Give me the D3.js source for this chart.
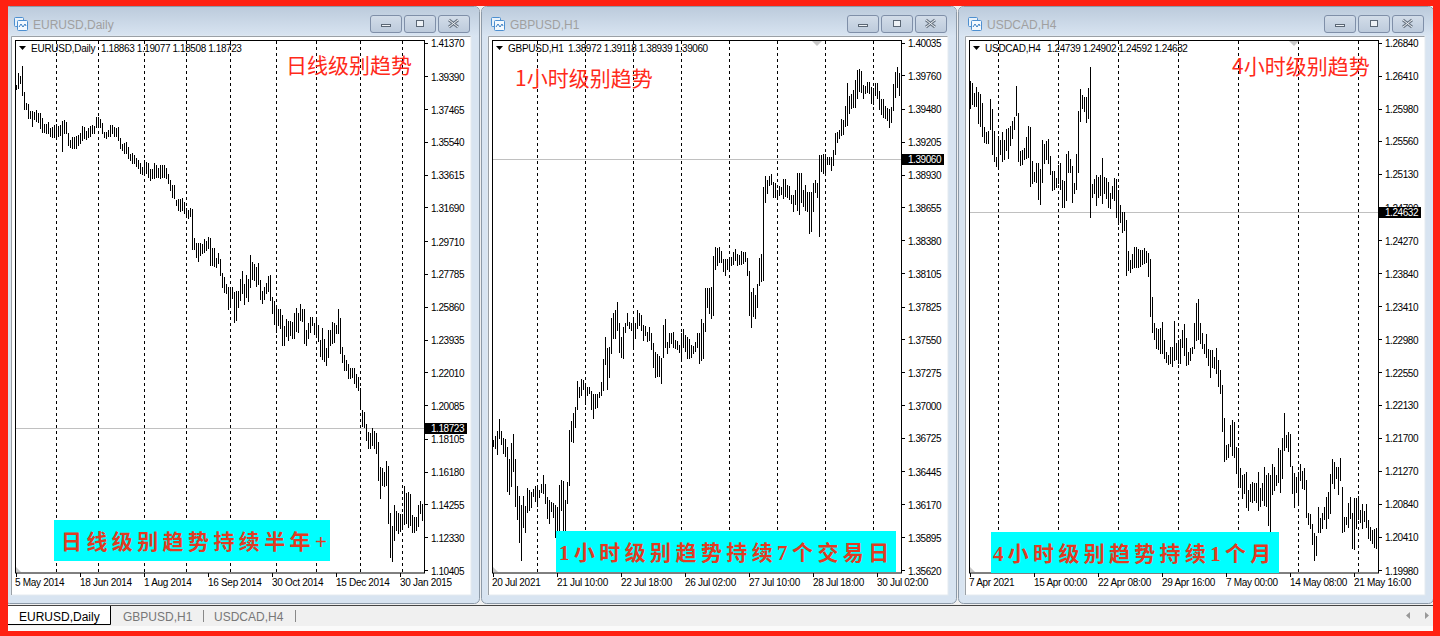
<!DOCTYPE html>
<html><head><meta charset="utf-8">
<script src="https://cdn.jsdelivr.net/npm/d3@7/dist/d3.min.js"></script>
<style>html,body{margin:0;padding:0;background:#fff;overflow:hidden}svg{display:block}</style>
</head><body><div id="c"></div>
<script>
// ---------- data (prices) ----------
const eurHigh=[
1.3888,1.3958,1.3940,1.3999,1.3847,1.3782,1.3776,1.3735,1.3735,1.3729,
1.3741,1.3723,1.3723,1.3694,1.3659,1.3659,1.3670,1.3635,1.3641,1.3653,
1.3659,1.3647,1.3653,1.3676,1.3682,1.3670,1.3606,1.3565,1.3582,1.3582,
1.3588,1.3594,1.3606,1.3647,1.3641,1.3618,1.3635,1.3647,1.3653,1.3647,
1.3700,1.3700,1.3688,1.3665,1.3612,1.3612,1.3623,1.3653,1.3653,1.3641,
1.3635,1.3641,1.3576,1.3541,1.3547,1.3553,1.3524,1.3483,1.3488,1.3477,
1.3459,1.3447,1.3430,1.3406,1.3447,1.3436,1.3430,1.3394,1.3394,1.3430,
1.3418,1.3400,1.3418,1.3418,1.3418,1.3400,1.3365,1.3330,1.3300,1.3300,
1.3213,1.3219,1.3219,1.3224,1.3201,1.3166,1.3154,1.3166,1.3160,1.2989,
1.2960,1.2960,1.2960,1.2954,1.2984,1.2972,1.2995,1.2989,1.2930,1.2930,
1.2872,1.2901,1.2866,1.2784,1.2761,1.2719,1.2702,1.2702,1.2702,1.2673,
1.2678,1.2678,1.2749,1.2796,1.2719,1.2772,1.2749,1.2890,1.2848,1.2837,
1.2819,1.2843,1.2743,1.2678,1.2702,1.2725,1.2766,1.2772,1.2643,1.2620,
1.2579,1.2573,1.2573,1.2538,1.2473,1.2514,1.2502,1.2502,1.2497,1.2549,
1.2579,1.2549,1.2602,1.2573,1.2573,1.2450,1.2491,1.2526,1.2526,1.2491,
1.2526,1.2479,1.2391,1.2462,1.2397,1.2344,1.2450,1.2450,1.2497,1.2491,
1.2479,1.2573,1.2520,1.2350,1.2303,1.2273,1.2250,1.2227,1.2227,1.2227,
1.2191,1.2174,1.2109,1.1980,1.1968,1.1898,1.1851,1.1845,1.1874,1.1857,
1.1845,1.1792,1.1645,1.1640,1.1616,1.1680,1.1651,1.1375,1.1299,1.1423,
1.1387,1.1375,1.1370,1.1370,1.1534,1.1492,1.1498,1.1487,1.1364,1.1352,
1.1352,1.1423,1.1446,1.1428];
const eurLow=[
1.3864,1.3870,1.3899,1.3829,1.3747,1.3747,1.3694,1.3694,1.3647,1.3688,
1.3676,1.3670,1.3635,1.3612,1.3612,1.3606,1.3606,1.3588,1.3582,1.3582,
1.3582,1.3588,1.3594,1.3500,1.3606,1.3606,1.3535,1.3524,1.3518,1.3518,
1.3518,1.3535,1.3547,1.3565,1.3576,1.3571,1.3582,1.3588,1.3606,1.3606,
1.3641,1.3641,1.3641,1.3606,1.3582,1.3576,1.3588,1.3588,1.3606,1.3588,
1.3588,1.3565,1.3518,1.3506,1.3488,1.3488,1.3459,1.3447,1.3430,1.3430,
1.3412,1.3400,1.3371,1.3365,1.3359,1.3371,1.3348,1.3330,1.3342,1.3342,
1.3348,1.3348,1.3342,1.3348,1.3348,1.3342,1.3312,1.3271,1.3230,1.3224,
1.3183,1.3154,1.3148,1.3154,1.3136,1.3119,1.3107,1.3119,1.2925,1.2925,
1.2878,1.2855,1.2890,1.2901,1.2907,1.2919,1.2930,1.2831,1.2831,1.2825,
1.2819,1.2843,1.2772,1.2702,1.2673,1.2667,1.2573,1.2602,1.2637,1.2497,
1.2508,1.2584,1.2626,1.2667,1.2602,1.2643,1.2620,1.2702,1.2749,1.2743,
1.2708,1.2719,1.2632,1.2608,1.2632,1.2667,1.2678,1.2626,1.2549,1.2485,
1.2438,1.2479,1.2462,1.2362,1.2362,1.2414,1.2391,1.2420,1.2403,1.2403,
1.2444,1.2438,1.2508,1.2502,1.2374,1.2362,1.2403,1.2438,1.2479,1.2426,
1.2409,1.2385,1.2297,1.2279,1.2268,1.2244,1.2291,1.2362,1.2374,1.2379,
1.2432,1.2432,1.2315,1.2262,1.2215,1.2215,1.2168,1.2168,1.2174,1.2138,
1.2115,1.2097,1.1992,1.1886,1.1880,1.1804,1.1757,1.1757,1.1774,1.1757,
1.1727,1.1569,1.1463,1.1540,1.1534,1.1540,1.1317,1.1117,1.1093,1.1217,
1.1276,1.1258,1.1270,1.1287,1.1311,1.1317,1.1293,1.1305,1.1264,1.1264,
1.1276,1.1299,1.1375,1.1334];
const gbpHigh=[
1.36708,1.36741,1.36783,1.36883,1.36783,1.36725,1.36716,1.36649,1.36549,1.36683,
1.36758,1.36549,1.36323,1.36239,1.36164,1.36239,1.36156,1.36306,1.36289,1.36272,
1.36298,1.36323,1.36314,1.36289,1.36340,1.36415,1.36340,1.36231,1.36206,1.36189,
1.36181,1.36164,1.36147,1.36331,1.36373,1.36365,1.36206,1.36356,1.36792,1.36867,
1.36934,1.36984,1.37202,1.37151,1.37218,1.37210,1.37185,1.37151,1.37151,1.37118,
1.37093,1.37093,1.37093,1.37109,1.37193,1.37386,1.37570,1.37478,1.37486,1.37729,
1.37771,1.37796,1.37863,1.37687,1.37570,1.37654,1.37687,1.37771,1.37696,1.37687,
1.37729,1.37687,1.37796,1.37771,1.37754,1.37670,1.37662,1.37612,1.37654,1.37604,
1.37520,1.37445,1.37428,1.37411,1.37395,1.37670,1.37721,1.37528,1.37604,1.37604,
1.37612,1.37545,1.37537,1.37503,1.37604,1.37637,1.37587,1.37570,1.37553,1.37503,
1.37495,1.37528,1.37604,1.37604,1.37721,1.37687,1.37980,1.37980,1.37980,1.37988,
1.38248,1.38323,1.38315,1.38323,1.38290,1.38223,1.38223,1.38223,1.38223,1.38240,
1.38281,1.38306,1.38265,1.38256,1.38290,1.38281,1.38281,1.38231,1.38123,1.37947,
1.37980,1.37922,1.38013,1.38231,1.38265,1.38825,1.38918,1.38884,1.38918,1.38934,
1.38867,1.38859,1.38800,1.38834,1.38825,1.38892,1.38892,1.38842,1.38834,1.38759,
1.38759,1.38800,1.38943,1.38943,1.38943,1.38800,1.38842,1.38783,1.38783,1.38783,
1.38859,1.38884,1.38859,1.39094,1.39094,1.39102,1.39102,1.39077,1.39077,1.39077,
1.39135,1.39278,1.39286,1.39303,1.39395,1.39386,1.39504,1.39696,1.39587,1.39604,
1.39637,1.39721,1.39805,1.39813,1.39797,1.39679,1.39671,1.39704,1.39704,1.39662,
1.39654,1.39696,1.39696,1.39629,1.39562,1.39562,1.39504,1.39487,1.39478,1.39495,
1.39688,1.39788,1.39830,1.39780];
const gbpLow=[
1.36658,1.36641,1.36591,1.36725,1.36675,1.36599,1.36574,1.36281,1.36256,1.36323,
1.36449,1.36156,1.36047,1.35854,1.35704,1.35980,1.35938,1.36105,1.36122,1.36147,
1.36239,1.36197,1.36156,1.36231,1.36272,1.36264,1.36181,1.36055,1.36013,1.36114,
1.36063,1.35896,1.35938,1.35955,1.36122,1.35938,1.35938,1.36181,1.36331,1.36700,
1.36691,1.36817,1.36967,1.37068,1.37085,1.37135,1.37009,1.37085,1.37101,1.36967,
1.36892,1.36975,1.36984,1.37068,1.37085,1.37126,1.37344,1.37135,1.37235,1.37436,
1.37562,1.37562,1.37629,1.37445,1.37403,1.37395,1.37612,1.37670,1.37646,1.37629,
1.37478,1.37562,1.37646,1.37670,1.37629,1.37545,1.37587,1.37537,1.37545,1.37470,
1.37319,1.37235,1.37243,1.37243,1.37185,1.37403,1.37486,1.37436,1.37486,1.37520,
1.37486,1.37478,1.37470,1.37445,1.37386,1.37486,1.37453,1.37395,1.37395,1.37403,
1.37436,1.37453,1.37486,1.37353,1.37378,1.37395,1.37621,1.37821,1.37771,1.37729,
1.37754,1.38139,1.38173,1.38198,1.38198,1.38123,1.38089,1.38139,1.38123,1.38173,
1.38181,1.38215,1.38173,1.38181,1.38181,1.38190,1.38206,1.38089,1.37754,1.37654,
1.37746,1.37729,1.37821,1.38005,1.38039,1.38047,1.38700,1.38775,1.38842,1.38850,
1.38742,1.38742,1.38733,1.38759,1.38767,1.38733,1.38750,1.38742,1.38725,1.38692,
1.38625,1.38683,1.38633,1.38599,1.38700,1.38666,1.38633,1.38625,1.38441,1.38457,
1.38625,1.38783,1.38742,1.38415,1.38960,1.38943,1.38926,1.39018,1.39018,1.38968,
1.39010,1.39102,1.39202,1.39236,1.39261,1.39270,1.39336,1.39345,1.39445,1.39487,
1.39495,1.39495,1.39570,1.39629,1.39621,1.39570,1.39612,1.39621,1.39612,1.39529,
1.39520,1.39596,1.39570,1.39478,1.39436,1.39411,1.39403,1.39386,1.39328,1.39370,
1.39470,1.39579,1.39662,1.39596];
const cadHigh=[
1.26340,1.26314,1.26184,1.26262,1.26197,1.26171,1.26054,1.25742,1.25677,1.25690,
1.26106,1.25976,1.25690,1.25352,1.25625,1.25573,1.25677,1.25573,1.25716,1.25729,
1.25755,1.25820,1.25872,1.26275,1.25924,1.25430,1.25443,1.25469,1.25612,1.25755,
1.25742,1.25300,1.25157,1.25274,1.25274,1.25196,1.25573,1.25521,1.25560,1.25586,
1.25365,1.25170,1.25170,1.25079,1.25248,1.25274,1.25053,1.25040,1.25391,1.25430,
1.25326,1.25235,1.25014,1.25391,1.25950,1.26236,1.26158,1.26132,1.26132,1.26249,
1.26522,1.25001,1.25066,1.25118,1.25092,1.25118,1.25339,1.25092,1.25079,1.25027,
1.24884,1.24975,1.25079,1.25066,1.24923,1.24728,1.24637,1.24637,1.24533,1.24130,
1.24013,1.24091,1.24182,1.24182,1.24156,1.24143,1.24143,1.24169,1.24130,1.24104,
1.24026,1.23532,1.23194,1.23129,1.23116,1.23129,1.23207,1.22973,1.22817,1.22778,
1.22882,1.22882,1.23220,1.22934,1.22973,1.22986,1.23103,1.23181,1.22999,1.22817,
1.22869,1.22882,1.23194,1.23454,1.23506,1.23194,1.23064,1.22921,1.23051,1.22856,
1.22843,1.22843,1.22752,1.22869,1.22713,1.22583,1.22388,1.21959,1.21608,1.21621,
1.21868,1.21933,1.21907,1.21582,1.21569,1.21309,1.21218,1.21231,1.21257,1.21023,
1.21101,1.21127,1.21114,1.21114,1.21257,1.21049,1.21114,1.21322,1.21218,1.21244,
1.21218,1.21361,1.21322,1.21218,1.21569,1.21543,1.21699,1.22024,1.21738,1.21777,
1.21751,1.21335,1.21244,1.21192,1.21257,1.21361,1.21270,1.21309,1.21153,1.20724,
1.20711,1.20581,1.20464,1.20425,1.20802,1.20659,1.20724,1.20802,1.20932,1.20997,
1.21231,1.21426,1.21387,1.21322,1.21322,1.21439,1.21062,1.20672,1.20672,1.20854,
1.20932,1.20724,1.20919,1.20919,1.20945,1.20763,1.20841,1.20750,1.20841,1.20633,
1.20542,1.20503,1.20516,1.20529];
const cadLow=[
1.25989,1.26041,1.26015,1.26015,1.25794,1.25755,1.25625,1.25547,1.25534,1.25534,
1.25716,1.25391,1.25300,1.25235,1.25209,1.25391,1.25300,1.25326,1.25443,1.25339,
1.25508,1.25599,1.25716,1.25898,1.25300,1.25248,1.25261,1.25326,1.25339,1.25352,
1.24975,1.25014,1.25040,1.25027,1.24806,1.24741,1.25027,1.25274,1.25326,1.25274,
1.25131,1.24923,1.24936,1.24962,1.25014,1.24936,1.24702,1.24702,1.24793,1.25157,
1.25157,1.24767,1.24884,1.24936,1.25157,1.25820,1.25989,1.25950,1.25807,1.25859,
1.24572,1.24832,1.24884,1.24728,1.24832,1.24858,1.24754,1.24884,1.24819,1.24702,
1.24689,1.24819,1.24793,1.24572,1.24481,1.24507,1.24377,1.24403,1.23818,1.23883,
1.23857,1.23909,1.23922,1.23922,1.23922,1.23935,1.23961,1.23974,1.23987,1.23805,
1.23285,1.23077,1.22986,1.22869,1.22856,1.22804,1.22804,1.22739,1.22687,1.22661,
1.22674,1.22635,1.22713,1.22726,1.22674,1.22674,1.22882,1.22778,1.22648,1.22661,
1.22713,1.22804,1.22869,1.22973,1.22986,1.22934,1.22869,1.22804,1.22752,1.22648,
1.22492,1.22622,1.22609,1.22544,1.22375,1.22284,1.21790,1.21400,1.21426,1.21452,
1.21595,1.21478,1.21452,1.21244,1.21062,1.21062,1.20919,1.20984,1.20802,1.20763,
1.20880,1.20867,1.20893,1.20867,1.20763,1.20815,1.20893,1.20828,1.20815,1.20568,
1.20477,1.20971,1.21023,1.21088,1.21127,1.20997,1.21179,1.21543,1.21582,1.21530,
1.21335,1.20984,1.20802,1.20997,1.20867,1.21153,1.21049,1.21036,1.20672,1.20581,
1.20529,1.20321,1.20113,1.20178,1.20477,1.20477,1.20529,1.20646,1.20529,1.20659,
1.20724,1.21114,1.21049,1.21179,1.20971,1.21153,1.20477,1.20490,1.20581,1.20542,
1.20659,1.20269,1.20256,1.20529,1.20646,1.20607,1.20529,1.20620,1.20542,1.20399,
1.20373,1.20334,1.20282,1.20269];
const eurPriceTicks=["1.41370","1.39390","1.37465","1.35540","1.33615","1.31690","1.29710","1.27785","1.25860","1.23935","1.22010","1.20085","1.18105","1.16180","1.14255","1.12330","1.10405"];
const gbpPriceTicks=["1.40035","1.39760","1.39480","1.39205","1.38930","1.38655","1.38380","1.38105","1.37825","1.37550","1.37275","1.37000","1.36725","1.36445","1.36170","1.35895","1.35620"];
const cadPriceTicks=["1.26840","1.26410","1.25980","1.25560","1.25130","1.24700","1.24270","1.23840","1.23410","1.22980","1.22550","1.22130","1.21700","1.21270","1.20840","1.20410","1.19980"];
const eurTimeTicks=["5 May 2014","18 Jun 2014","1 Aug 2014","16 Sep 2014","30 Oct 2014","15 Dec 2014","30 Jan 2015"];
const gbpTimeTicks=["20 Jul 2021","21 Jul 10:00","22 Jul 18:00","26 Jul 02:00","27 Jul 10:00","28 Jul 18:00","30 Jul 02:00"];
const cadTimeTicks=["7 Apr 2021","15 Apr 00:00","22 Apr 08:00","29 Apr 16:00","7 May 00:00","14 May 08:00","21 May 16:00"];
const timeTickBars=[0,32,64,96,128,160,192];
const eurPeriodBars=[20,41,64,85,107,130,150,172,193];
const gbpPeriodBars=[22,46,70,94,118,142,166,190];
const cadPeriodBars=[14,44,74,104,134,164,194];
const eurOHLC=["1.18863","1.19077","1.18508","1.18723"];
const gbpOHLC=["1.38972","1.39118","1.38939","1.39060"];
const cadOHLC=["1.24739","1.24902","1.24592","1.24632"];
const windows=[
 {sym:"EURUSD,Daily",hi:eurHigh,lo:eurLow,ticks:eurPriceTicks,times:eurTimeTicks,periods:eurPeriodBars,ohlc:eurOHLC,ox:101,trend:"日线级别趋势",note:"日线级别趋势持续半年+",
  tx:286,ty:66,nx0:54,nx1:330,ny0:520,ny1:561,ntx:61,ls:4.4,marker:false},
 {sym:"GBPUSD,H1",hi:gbpHigh,lo:gbpLow,ticks:gbpPriceTicks,times:gbpTimeTicks,periods:gbpPeriodBars,ohlc:gbpOHLC,ox:568,trend:"1小时级别趋势",note:"1小时级别趋势持续7个交易日",
  tx:515,ty:79,nx0:556,nx1:896,ny0:531,ny1:572,ntx:559,ls:4.4,marker:true},
 {sym:"USDCAD,H4",hi:cadHigh,lo:cadLow,ticks:cadPriceTicks,times:cadTimeTicks,periods:cadPeriodBars,ohlc:cadOHLC,ox:1047,trend:"4小时级别趋势",note:"4小时级别趋势持续1个月",
  tx:1232,ty:67,nx0:991,nx1:1279,ny0:532,ny1:573,ntx:993,ls:4.3,marker:true}
];
// ---------- drawing ----------
const W=1440,H=636,UI='"Liberation Sans",Arial,sans-serif',CJK='"Noto Sans CJK SC",sans-serif',NOTE='"Liberation Serif","Noto Sans CJK SC",serif';
const svg=d3.select("#c").append("svg").attr("width",W).attr("height",H);
const defs=svg.append("defs");
const gr=defs.append("linearGradient").attr("id","tb").attr("x1",0).attr("x2",0).attr("y1",0).attr("y2",1);
gr.append("stop").attr("offset",0).attr("stop-color","#bccbdc");
gr.append("stop").attr("offset",1).attr("stop-color","#d9e5f2");
const bg=defs.append("linearGradient").attr("id","bt").attr("x1",0).attr("x2",0).attr("y1",0).attr("y2",1);
bg.append("stop").attr("offset",0).attr("stop-color","#d3dde9");
bg.append("stop").attr("offset",1).attr("stop-color","#bccadb");
svg.append("rect").attr("width",W).attr("height",H).attr("fill","#f0f0f0");

windows.forEach((w,k)=>{
 const dx=477*k,g=svg.append("g");
 g.append("rect").attr("x",4+dx+0.5).attr("y",6.5).attr("width",475).attr("height",597).attr("rx",5).attr("fill","#d8e4f1").attr("stroke","#8d9aa8");
 g.append("path").attr("d",`M${5+dx} 37V12q0-5 5-5H${474+dx}q5 0 5 5V37Z`).attr("fill","url(#tb)");
 // title icon
 const ic=g.append("g").attr("transform",`translate(${14+dx},17)`);
 ic.append("rect").attr("x",0.5).attr("y",0.5).attr("width",9).attr("height",9).attr("rx",1).attr("fill","#e8f2fb").attr("stroke","#4d8fd0");
 ic.append("rect").attr("x",3.5).attr("y",3.5).attr("width",10).attr("height",10).attr("rx",1).attr("fill","#f4f9fe").attr("stroke","#4d8fd0");
 ic.append("path").attr("d","M5 10l2-3 2 3 2-3 1 2").attr("fill","none").attr("stroke","#3b7fc4");
 g.append("text").attr("x",33+dx).attr("y",29).attr("font-family",UI).attr("font-size",12).attr("fill","#a0a0a0").text(w.sym);
 // caption buttons
 [370,404,438].forEach((bx,b)=>{
  const x=bx+dx;
  g.append("rect").attr("x",x+.5).attr("y",15.5).attr("width",31).attr("height",17).attr("rx",2.5).attr("fill","url(#bt)").attr("stroke","#7f8fa8");
  if(b==0) g.append("rect").attr("x",x+11.5).attr("y",24.5).attr("width",9).attr("height",2).attr("fill","#eef2f6").attr("stroke","#5a6674");
  if(b==1) g.append("rect").attr("x",x+12.5).attr("y",20.5).attr("width",7).attr("height",6).attr("fill","#eef2f6").attr("stroke","#5a6674");
  if(b==2){
   g.append("path").attr("d",`M${x+11} 20l9 7M${x+20} 20l-9 7`).attr("stroke","#6a7684").attr("stroke-width",3);
   g.append("path").attr("d",`M${x+11} 20l9 7M${x+20} 20l-9 7`).attr("stroke","#f2f5f8").attr("stroke-width",1);
  }
 });
 // client area
 g.append("rect").attr("x",11+dx).attr("y",36).attr("width",460).attr("height",559).attr("fill","#fff").attr("stroke","#e4eaf0");
 g.append("path").attr("d",`M${11.5+dx} 595V36.5H${470.5+dx}`).attr("fill","none").attr("stroke","#9aa0a6");

 const x0=16+dx, n=w.hi.length;
 const xs=d3.scaleLinear().domain([0,n-1]).range([x0,x0+2*(n-1)]);
 const lastClose=+w.ohlc[3], top=+w.ticks[0], bot=+w.ticks[w.ticks.length-1];
 const ys=d3.scaleLinear().domain([bot,top]).range([570,42.5]);
 const L=15+dx,R=424+dx,T=41,B=573;

 // period separators
 g.append("g").selectAll("line").data(w.periods).join("line")
  .attr("x1",d=>xs(d)+.5).attr("x2",d=>xs(d)+.5).attr("y1",T).attr("y2",B)
  .attr("stroke","#000").attr("stroke-dasharray","3,3");
 // current price line
 g.append("line").attr("x1",L).attr("x2",R).attr("y1",Math.round(ys(lastClose))+.5).attr("y2",Math.round(ys(lastClose))+.5).attr("stroke","#c0c0c0");
 // bars
 g.append("g").selectAll("line").data(d3.range(n)).join("line")
  .attr("x1",i=>xs(i)+.5).attr("x2",i=>xs(i)+.5).attr("y1",i=>Math.round(ys(w.hi[i]))).attr("y2",i=>Math.round(ys(w.lo[i]))+1)
  .attr("stroke","#000").attr("stroke-width",1).attr("shape-rendering","crispEdges");
 // frame
 g.append("rect").attr("x",L+.5).attr("y",T-.5).attr("width",R-L).attr("height",B-T+.5).attr("fill","none").attr("stroke","#000");
 // price axis
 const yAxis=g.append("g").attr("font-family",UI).attr("font-size",10).attr("letter-spacing",-0.45).attr("fill","#000");
 yAxis.selectAll("line").data(w.ticks).join("line").attr("x1",R).attr("x2",R+4).attr("y1",d=>Math.round(ys(+d))+.5).attr("y2",d=>Math.round(ys(+d))+.5).attr("stroke","#000");
 yAxis.selectAll("text").data(w.ticks).join("text").attr("x",R+7).attr("y",d=>ys(+d)+4.5).text(d=>d);
 // current price tag
 const ly=Math.round(ys(lastClose));
 g.append("rect").attr("x",R+1).attr("y",ly-5).attr("width",42).attr("height",11).attr("fill","#000");
 g.append("text").attr("x",R+7).attr("y",ly+4).attr("font-family",UI).attr("font-size",10).attr("letter-spacing",-0.45).attr("fill","#fff").text(w.ohlc[3]);
 // time axis
 const xa=g.append("g").attr("font-family",UI).attr("font-size",10).attr("letter-spacing",-0.3).attr("fill","#000");
 xa.selectAll("line").data(timeTickBars).join("line").attr("x1",d=>xs(d)+.5).attr("x2",d=>xs(d)+.5).attr("y1",B).attr("y2",B+4).attr("stroke","#000");
 xa.selectAll("text").data(w.times).join("text").attr("x",(d,i)=>xs(timeTickBars[i])-(i?0:1)).attr("y",586).text(d=>d);
 // header
 g.append("path").attr("d",`M${19+dx} 46h7l-3.5 4z`).attr("fill","#000");
 g.append("text").attr("x",31+dx).attr("y",51.5).attr("font-family",UI).attr("font-size",10).attr("letter-spacing",-0.25).attr("fill","#000").text(w.sym);
 g.append("text").attr("x",w.ox).attr("y",51.5).attr("font-family",UI).attr("font-size",10).attr("letter-spacing",-0.4).attr("fill","#000").text(w.ohlc.join(" "));
 // markers
 g.append("path").attr("d",`M${L+1} ${B-1}v-5l5 5z`).attr("fill","#c8c8c8");
 if(w.marker) g.append("path").attr("d",`M${340+dx-5} 41h10l-5 5z`).attr("fill","#c8c8c8");
 // annotations
 g.append("text").attr("x",w.tx).attr("y",w.ty+7).attr("font-family",CJK).attr("font-size",21).attr("fill","#ff2a1a").text(w.trend);
 g.append("rect").attr("x",w.nx0).attr("y",w.ny0).attr("width",w.nx1-w.nx0).attr("height",w.ny1-w.ny0).attr("fill","#00ffff");
 g.append("text").attr("x",w.ntx).attr("y",(w.ny0+w.ny1)/2+8).attr("font-family",NOTE).attr("font-weight",700).attr("font-size",21).attr("letter-spacing",w.ls).attr("fill","#e13b22").text(w.note);
});
// tab bar
const tb=svg.append("g");
tb.append("rect").attr("x",0).attr("y",604).attr("width",W).attr("height",30).attr("fill","#f0f0f0");
tb.append("line").attr("x1",0).attr("x2",W).attr("y1",605.5).attr("y2",605.5).attr("stroke","#444");
tb.append("rect").attr("x",0).attr("y",626).attr("width",W).attr("height",8).attr("fill","#fafafa");
tb.append("path").attr("d","M8 606H110V624.5H8Z").attr("fill","#fff");
tb.append("path").attr("d","M110.5 606V624.5H8").attr("fill","none").attr("stroke","#000");
const tabs=[["EURUSD,Daily",19,"#000"],["GBPUSD,H1",123,"#777"],["USDCAD,H4",214,"#777"]];
tb.selectAll("text").data(tabs).join("text").attr("x",d=>d[1]).attr("y",621).attr("font-family",UI).attr("font-size",12).attr("fill",d=>d[2]).text(d=>d[0]);
[203.5,295.5].forEach(x=>tb.append("line").attr("x1",x).attr("x2",x).attr("y1",610).attr("y2",622).attr("stroke","#888"));
tb.append("path").attr("d","M1410 612v7l-4-3.5zM1425 612v7l4-3.5z").attr("fill","#999");
// red outline
svg.append("path").attr("fill-rule","evenodd").attr("fill","#ff2112").attr("d",`M0 0H${W}V${H}H0ZM8 6V631H1433V6Z`);
</script></body></html>
